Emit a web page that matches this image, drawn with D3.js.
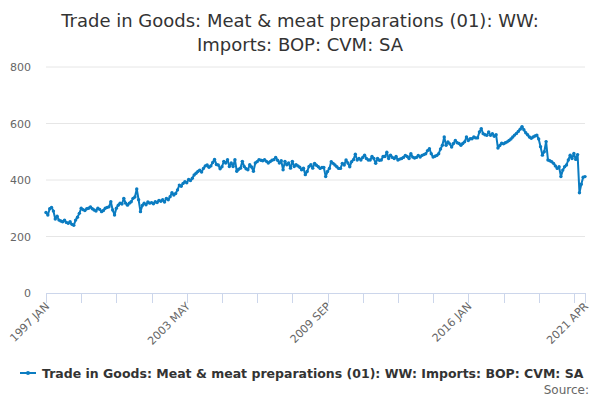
<!DOCTYPE html>
<html>
<head>
<meta charset="utf-8">
<script src="https://cdn.jsdelivr.net/npm/d3@7"></script>
<style>
  body { margin: 0; background: #fff; }
  svg { font-family: "DejaVu Sans", sans-serif; }
</style>
</head>
<body>
<svg width="600" height="400"></svg>
<script>
const title = ['Trade in Goods: Meat & meat preparations (01): WW:', 'Imports: BOP: CVM: SA']
const seriesName = 'Trade in Goods: Meat & meat preparations (01): WW: Imports: BOP: CVM: SA'
const monthNames = ['JAN', 'FEB', 'MAR', 'APR', 'MAY', 'JUN', 'JUL', 'AUG', 'SEP', 'OCT', 'NOV', 'DEC']
const firstYear = 1997

// monthly values, one row per year
const imports = [
  285, 276, 298, 303, 290, 262, 272, 258, 255, 252, 258, 250, // 1997
  247, 252, 243, 240, 258, 268, 282, 300, 295, 292, 298, 300, // 1998
  305, 298, 294, 290, 300, 296, 288, 292, 300, 303, 305, 323, // 1999
  294, 276, 300, 311, 318, 315, 335, 318, 311, 318, 323, 335, // 2000
  340, 368, 330, 288, 310, 318, 312, 322, 318, 320, 316, 323, // 2001
  320, 328, 325, 330, 322, 335, 330, 341, 355, 347, 352, 365, // 2002
  382, 378, 388, 394, 390, 402, 398, 406, 418, 424, 430, 435, // 2003
  428, 441, 450, 453, 445, 450, 462, 473, 455, 453, 440, 447, // 2004
  466, 460, 472, 448, 460, 448, 472, 431, 438, 442, 466, 448, // 2005
  440, 436, 454, 446, 431, 460, 465, 472, 470, 468, 472, 466, // 2006
  460, 465, 470, 472, 480, 470, 460, 468, 436, 466, 454, 460, // 2007
  442, 466, 448, 454, 450, 445, 436, 442, 419, 430, 448, 454, // 2008
  442, 459, 452, 447, 441, 444, 444, 412, 430, 441, 465, 459, // 2009
  453, 447, 441, 441, 459, 453, 471, 460, 447, 465, 472, 491, // 2010
  471, 476, 471, 480, 488, 476, 471, 471, 483, 476, 459, 476, // 2011
  470, 471, 483, 483, 498, 476, 488, 480, 476, 483, 471, 474, // 2012
  476, 480, 487, 483, 476, 493, 481, 478, 480, 487, 481, 487, // 2013
  490, 493, 504, 511, 493, 481, 484, 487, 493, 510, 523, 552, // 2014
  523, 535, 528, 517, 529, 540, 532, 529, 523, 529, 535, 552, // 2015
  540, 546, 546, 552, 549, 549, 570, 582, 564, 560, 558, 570, // 2016
  558, 564, 555, 560, 513, 522, 530, 528, 532, 535, 540, 545, // 2017
  552, 559, 565, 572, 580, 589, 578, 567, 560, 552, 548, 552, // 2018
  556, 559, 545, 518, 488, 500, 536, 471, 468, 465, 459, 450, // 2019
  441, 447, 412, 435, 447, 453, 471, 488, 476, 494, 473, 490, // 2020
  355, 385, 410, 412                                          // 2021
]

const yTicks = [0, 200, 400, 600, 800]
const xLabels = ['1997 JAN', '2003 MAY', '2009 SEP', '2016 JAN', '2021 APR']
const tickStep = 19

const months = imports.map((_, i) => (firstYear + Math.floor(i / 12)) + ' ' + monthNames[i % 12])
const data = months.map((m, i) => ({ month: m, value: imports[i] }))

const svg = d3.select('svg')
const color = '#0b7cc1'

const x = d3.scalePoint().domain(months).range([46, 585])
const y = d3.scaleLinear().domain([0, 800]).range([293, 67])

// title
svg.append('text')
  .attr('x', 300).attr('y', 27)
  .attr('text-anchor', 'middle')
  .style('font-size', '18px').style('fill', '#333')
  .selectAll('tspan').data(title).join('tspan')
  .attr('x', 300).attr('dy', (_, i) => i ? 24 : 0)
  .text(d => d)

// grid
svg.append('g').selectAll('line')
  .data(yTicks.filter(d => d > 0))
  .join('line')
  .attr('x1', 46).attr('x2', 585)
  .attr('y1', d => y(d)).attr('y2', d => y(d))
  .attr('stroke', '#e6e6e6')

svg.append('g').selectAll('text')
  .data(yTicks)
  .join('text')
  .attr('x', 31).attr('y', d => y(d) + 4)
  .attr('text-anchor', 'end')
  .style('font-size', '11px').style('fill', '#666')
  .text(d => d)

// x axis
const tickMonths = months.filter((_, i) => i % tickStep === 0 || i === months.length - 1)
const xAxis = svg.append('g')
xAxis.append('line')
  .attr('x1', 46).attr('x2', 585)
  .attr('y1', 293.5).attr('y2', 293.5)
  .attr('stroke', '#ccd6eb')
xAxis.selectAll('.tick').data(tickMonths).join('line')
  .attr('x1', d => Math.round(x(d)) + 0.5).attr('x2', d => Math.round(x(d)) + 0.5)
  .attr('y1', 293).attr('y2', 303)
  .attr('stroke', '#ccd6eb')
xAxis.selectAll('text').data(xLabels).join('text')
  .attr('transform', d => `translate(${x(d) + 4},${307}) rotate(-45)`)
  .attr('text-anchor', 'end')
  .style('font-size', '11px').style('fill', '#666')
  .text(d => d)

// series
const line = d3.line().x(d => x(d.month)).y(d => y(d.value))
svg.append('path')
  .datum(data)
  .attr('d', line)
  .attr('fill', 'none')
  .attr('stroke', color)
  .attr('stroke-width', 2)
  .attr('stroke-linejoin', 'round')

svg.append('g').selectAll('circle')
  .data(data)
  .join('circle')
  .attr('cx', d => x(d.month))
  .attr('cy', d => y(d.value))
  .attr('r', 1.7)
  .attr('fill', color)

// legend
const legend = svg.append('g').attr('transform', 'translate(20,373)')
legend.append('line')
  .attr('x1', 0).attr('x2', 16).attr('y1', 0).attr('y2', 0)
  .attr('stroke', color).attr('stroke-width', 2)
legend.append('circle').attr('cx', 8).attr('cy', 0).attr('r', 2).attr('fill', color)
legend.append('text')
  .attr('x', 22).attr('y', 4.5)
  .style('font-size', '12.5px').style('font-weight', 'bold').style('fill', '#333')
  .text(seriesName)

svg.append('text')
  .attr('x', 589).attr('y', 394)
  .attr('text-anchor', 'end')
  .style('font-size', '12px').style('fill', '#666')
  .text('Source:')
</script>
</body>
</html>
